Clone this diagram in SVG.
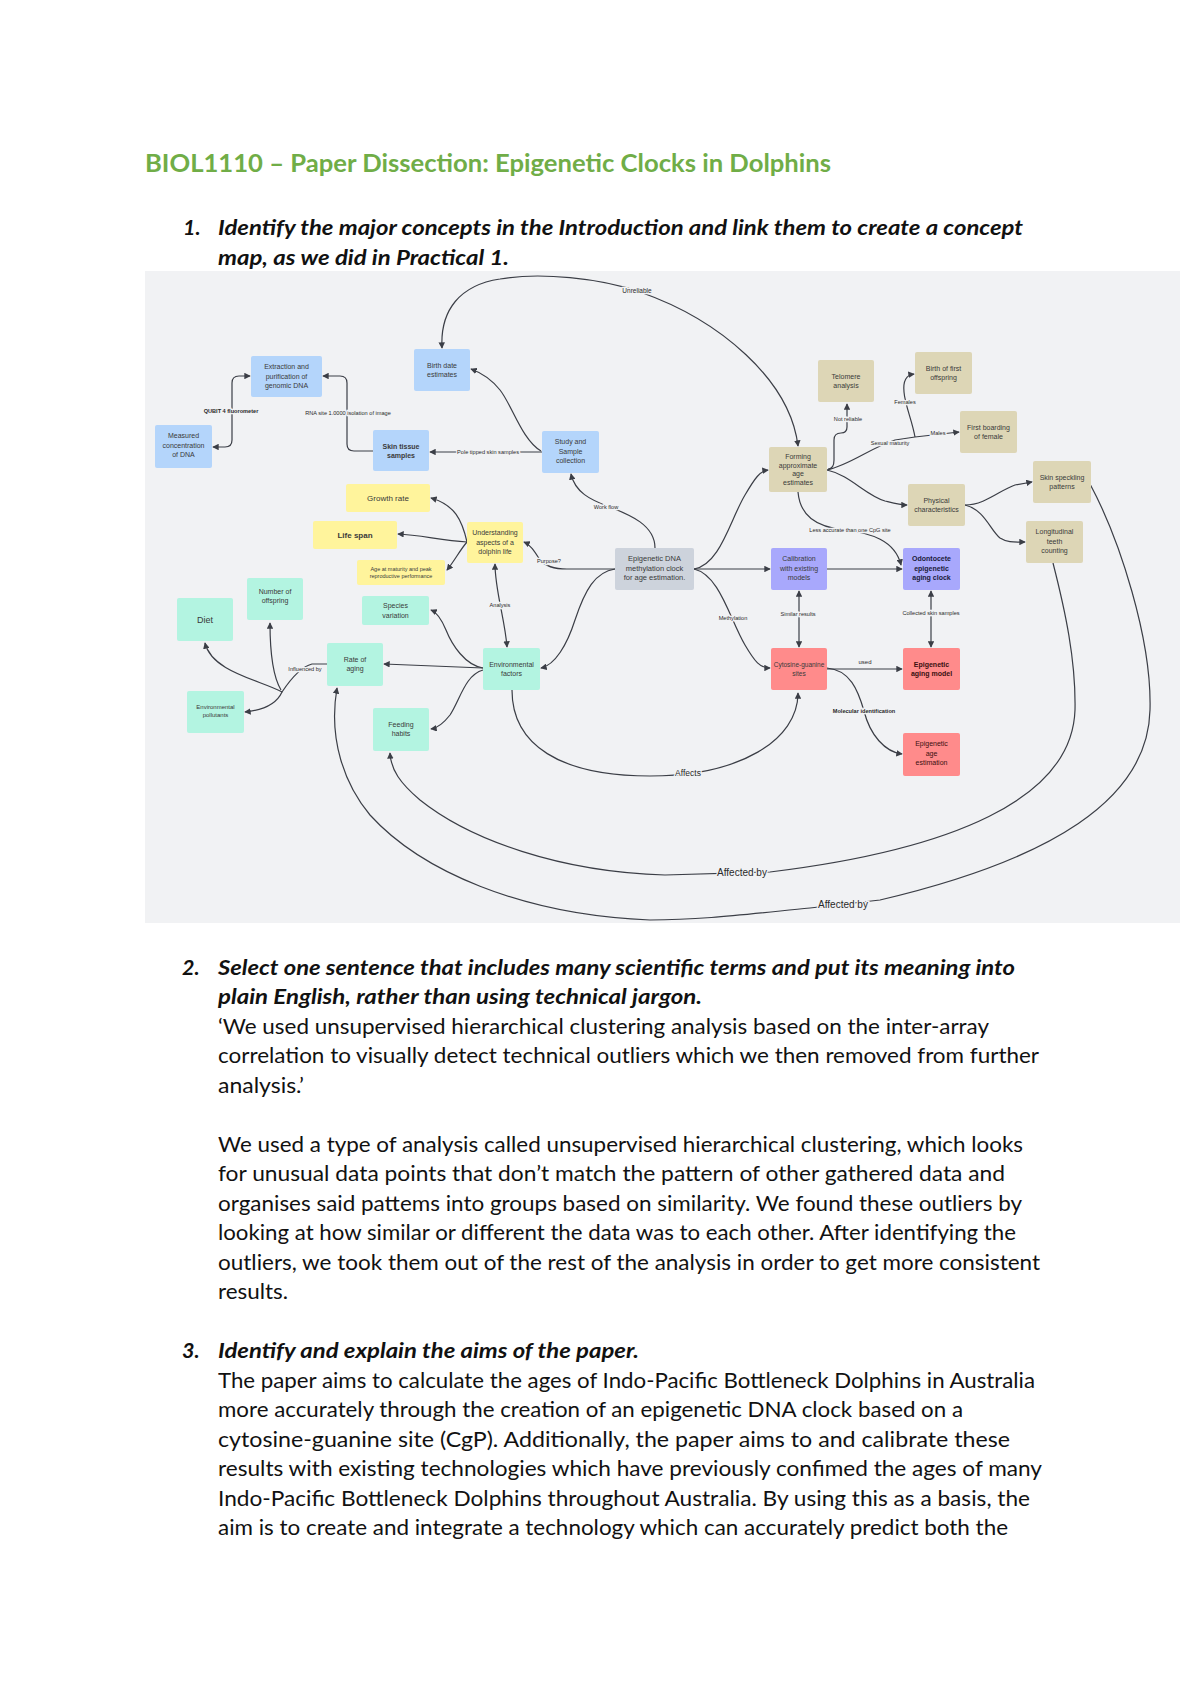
<svg xmlns="http://www.w3.org/2000/svg" width="1200" height="1696" viewBox="0 0 1200 1696">
<style>
.doc{font-family:Lato,"Liberation Sans",sans-serif;font-size:21.5px;fill:#111}
.q{font-weight:bold;font-style:italic}
.title{font-family:Lato,"Liberation Sans",sans-serif;font-weight:bold;font-size:25px;fill:#70ad47}
.c{fill:none;stroke:#3b3e46;stroke-width:1.2}
.nt{font-family:"Liberation Sans",Arial,sans-serif;font-size:7px;fill:#3a3a3a;text-anchor:middle}
.b{font-weight:bold}
.lb{font-family:"Liberation Sans",Arial,sans-serif;font-size:5.6px;fill:#2a2a2a;text-anchor:middle;paint-order:stroke;stroke:#f1f2f4;stroke-width:2.5px}
.big{font-size:10px}
.blue{fill:#b4d5fb}
.mint{fill:#b3f4e1}
.yel{fill:#fff49c}
.beige{fill:#ddd6b6}
.purp{fill:#a8a8fc}
.red{fill:#ff8b8b}
.grey{fill:#cdd3dc}
</style>
<defs>
<marker id="ah" viewBox="0 0 8 8" refX="7" refY="4" markerWidth="6.5" markerHeight="6.5" markerUnits="userSpaceOnUse" orient="auto-start-reverse"><path d="M0,0 L8,4 L0,8 z" fill="#3b3e46"/></marker>
</defs>
<rect width="1200" height="1696" fill="#ffffff"/>

<text class="title" x="145" y="172" textLength="686" lengthAdjust="spacingAndGlyphs">BIOL1110 – Paper Dissection: Epigenetic Clocks in Dolphins</text>

<text class="doc q" x="183" y="235">1.</text>
<text class="doc q" x="218" y="235" textLength="805" lengthAdjust="spacingAndGlyphs">Identify the major concepts in the Introduction and link them to create a concept</text>
<text class="doc q" x="218" y="265" textLength="291" lengthAdjust="spacingAndGlyphs">map, as we did in Practical 1.</text>

<rect x="145" y="271" width="1035" height="652" fill="#f1f2f4"/>

<g id="connectors">
<path class="c" d="M213,447 L225,447 Q232,447 232,440 L232,383 Q232,376 239,376 L250,376" marker-start="url(#ah)" marker-end="url(#ah)"/>
<path class="c" d="M373,451 L354,451 Q347,451 347,444 L347,383 Q347,376 340,376 L323,376" marker-end="url(#ah)"/>
<path class="c" d="M542,452 L430,452" marker-end="url(#ah)"/>
<path class="c" d="M541,451 C522,440 512,405 500,390 C492,380 482,373 471,369" marker-end="url(#ah)"/>
<path class="c" d="M442,348 C440,310 460,285 500,279 C540,272 600,278 640,292 C720,320 790,380 798,446" marker-start="url(#ah)" marker-end="url(#ah)"/>
<path class="c" d="M655,548 C655,525 630,515 610,507 C590,500 575,492 571,474" marker-end="url(#ah)"/>
<path class="c" d="M694,569 L770,569" marker-end="url(#ah)"/>
<path class="c" d="M694,569 C720,565 730,520 745,495 C755,478 760,471 768,470" marker-end="url(#ah)"/>
<path class="c" d="M694,569 C720,575 730,620 745,645 C755,662 760,668 770,668" marker-end="url(#ah)"/>
<path class="c" d="M615,569 L567,569 C555,569 545,566 540,560 C535,552 531,545 524,542" marker-end="url(#ah)"/>
<path class="c" d="M615,569 C595,572 585,590 575,620 C567,645 555,665 541,668" marker-end="url(#ah)"/>
<path class="c" d="M495,564 C495,590 505,620 507,647" marker-start="url(#ah)" marker-end="url(#ah)"/>
<path class="c" d="M799,591 L799,647" marker-start="url(#ah)" marker-end="url(#ah)"/>
<path class="c" d="M827,569 L902,569" marker-end="url(#ah)"/>
<path class="c" d="M931,591 L931,647" marker-start="url(#ah)" marker-end="url(#ah)"/>
<path class="c" d="M827,669 L902,669" marker-end="url(#ah)"/>
<path class="c" d="M827,668 C850,670 858,690 864,711 C870,735 885,752 902,754" marker-end="url(#ah)"/>
<path class="c" d="M512,690 C512,745 560,776 650,776 C740,776 798,740 798,693" marker-end="url(#ah)"/>
<path class="c" d="M1053,563 C1065,610 1076,660 1075,710 C1072,800 950,850 770,872 L665,875 C560,872 470,840 420,800 C400,783 391,770 390,753" marker-end="url(#ah)"/>
<path class="c" d="M1090,484 C1120,540 1152,640 1150,710 C1148,800 1050,860 880,900 L810,908 C740,915 700,920 650,920 C520,915 420,870 370,815 C345,785 328,740 337,688" marker-end="url(#ah)"/>
<path class="c" d="M467,542 C462,520 455,505 431,498" marker-end="url(#ah)"/>
<path class="c" d="M467,542 C440,540 420,535 398,534" marker-end="url(#ah)"/>
<path class="c" d="M467,542 C460,550 455,560 447,570" marker-end="url(#ah)"/>
<path class="c" d="M483,668 C465,665 452,645 446,630 C441,618 436,612 431,610" marker-end="url(#ah)"/>
<path class="c" d="M483,668 L384,664" marker-end="url(#ah)"/>
<path class="c" d="M483,670 C465,675 460,700 450,715 C443,724 438,728 431,729" marker-end="url(#ah)"/>
<path class="c" d="M327,664 L312,664 C300,667 290,680 282,692 C260,680 212,672 205,643" marker-end="url(#ah)"/>
<path class="c" d="M281,690 C272,675 270,650 270,623" marker-end="url(#ah)"/>
<path class="c" d="M282,692 C277,703 265,710 245,712" marker-end="url(#ah)"/>
<path class="c" d="M965,505 C985,505 1000,490 1015,485 L1032,482" marker-end="url(#ah)"/>
<path class="c" d="M965,505 C985,510 990,530 1000,538 C1008,543 1015,542 1025,542" marker-end="url(#ah)"/>
<path class="c" d="M827,470 C850,475 865,495 885,501 C893,503 900,505 907,505" marker-end="url(#ah)"/>
<path class="c" d="M827,470 C850,465 870,448 895,440 L915,437 L959,432" marker-end="url(#ah)"/>
<path class="c" d="M915,437 C912,420 905,405 904,392 C903,382 906,375 914,374" marker-end="url(#ah)"/>
<path class="c" d="M828,469 Q834,469 834,460 L834,440 Q834,433 841,433 Q847,433 847,427 L847,404" marker-end="url(#ah)"/>
<path class="c" d="M798,492 C800,515 815,527 845,530 C870,533 895,540 901,565" marker-end="url(#ah)"/>

<text class="lb b" x="231" y="413">QUBIT 4 fluorometer</text>
<text class="lb" x="348" y="415">RNA site 1.0000 isolation of image</text>
<text class="lb" x="488" y="454">Pole tipped skin samples</text>
<text class="lb" style="font-size:6.5px" x="637" y="293">Unreliable</text>
<text class="lb" x="606" y="509">Work flow</text>
<text class="lb" x="549" y="563">Purpose?</text>
<text class="lb" x="500" y="607">Analysis</text>
<text class="lb" x="733" y="620">Methylation</text>
<text class="lb" x="798" y="616">Similar results</text>
<text class="lb" x="931" y="615">Collected skin samples</text>
<text class="lb" style="font-size:6px" x="865" y="664">used</text>
<text class="lb b" x="864" y="713">Molecular identification</text>
<text class="lb" style="font-size:8.5px" x="688" y="776">Affects</text>
<text class="lb big" x="742" y="876">Affected by</text>
<text class="lb big" x="843" y="908">Affected by</text>
<text class="lb" x="305" y="671">Influenced by</text>
<text class="lb" x="850" y="532">Less accurate than one CpG site</text>
<text class="lb" x="890" y="445">Sexual maturity</text>
<text class="lb" x="905" y="404">Females</text>
<text class="lb" x="938" y="435">Males</text>
<text class="lb" x="848" y="421">Not reliable</text>
</g>

<g id="n-extraction"><rect class="blue" x="251" y="356" width="71" height="41" rx="2"/><text class="nt"><tspan x="286.5" y="369">Extraction and</tspan><tspan x="286.5" y="378.5">purification of</tspan><tspan x="286.5" y="388">genomic DNA</tspan></text></g>
<g id="n-birthdate"><rect class="blue" x="414" y="349" width="56" height="42" rx="2"/><text class="nt"><tspan x="442" y="368">Birth date</tspan><tspan x="442" y="377">estimates</tspan></text></g>
<g id="n-measured"><rect class="blue" x="155" y="425" width="57" height="43" rx="2"/><text class="nt"><tspan x="183.5" y="438">Measured</tspan><tspan x="183.5" y="447.5">concentration</tspan><tspan x="183.5" y="457">of DNA</tspan></text></g>
<g id="n-skin"><rect class="blue" x="373" y="430" width="56" height="41" rx="2"/><text class="nt b"><tspan x="401" y="449">Skin tissue</tspan><tspan x="401" y="458">samples</tspan></text></g>
<g id="n-study"><rect class="blue" x="542" y="431" width="57" height="42" rx="2"/><text class="nt"><tspan x="570.5" y="444">Study and</tspan><tspan x="570.5" y="453.5">Sample</tspan><tspan x="570.5" y="463">collection</tspan></text></g>

<g id="n-telomere"><rect class="beige" x="818" y="360" width="56" height="42" rx="2"/><text class="nt"><tspan x="846" y="379">Telomere</tspan><tspan x="846" y="388">analysis</tspan></text></g>
<g id="n-birthfirst"><rect class="beige" x="915" y="352" width="57" height="42" rx="2"/><text class="nt"><tspan x="943.5" y="371">Birth of first</tspan><tspan x="943.5" y="380">offspring</tspan></text></g>
<g id="n-boarding"><rect class="beige" x="960" y="411" width="57" height="42" rx="2"/><text class="nt"><tspan x="988.5" y="430">First boarding</tspan><tspan x="988.5" y="439">of female</tspan></text></g>
<g id="n-forming"><rect class="beige" x="769" y="447" width="58" height="45" rx="2"/><text class="nt"><tspan x="798" y="459">Forming</tspan><tspan x="798" y="467.5">approximate</tspan><tspan x="798" y="476">age</tspan><tspan x="798" y="484.5">estimates</tspan></text></g>
<g id="n-physical"><rect class="beige" x="908" y="484" width="57" height="42" rx="2"/><text class="nt"><tspan x="936.5" y="503">Physical</tspan><tspan x="936.5" y="512">characteristics</tspan></text></g>
<g id="n-speckling"><rect class="beige" x="1033" y="461" width="58" height="42" rx="2"/><text class="nt"><tspan x="1062" y="480">Skin speckling</tspan><tspan x="1062" y="489">patterns</tspan></text></g>
<g id="n-teeth"><rect class="beige" x="1026" y="521" width="57" height="42" rx="2"/><text class="nt"><tspan x="1054.5" y="534">Longitudinal</tspan><tspan x="1054.5" y="543.5">teeth</tspan><tspan x="1054.5" y="553">counting</tspan></text></g>

<g id="n-growth"><rect class="yel" x="346" y="484" width="84" height="28" rx="2"/><text class="nt" style="font-size:8px"><tspan x="388" y="501">Growth rate</tspan></text></g>
<g id="n-lifespan"><rect class="yel" x="313" y="521" width="84" height="28" rx="2"/><text class="nt b" style="font-size:8px"><tspan x="355" y="538">Life span</tspan></text></g>
<g id="n-agematurity"><rect class="yel" x="357" y="560" width="88" height="25" rx="2"/><text class="nt" style="font-size:5.5px"><tspan x="401" y="571">Age at maturity and peak</tspan><tspan x="401" y="578">reproductive performance</tspan></text></g>
<g id="n-understanding"><rect class="yel" x="467" y="522" width="56" height="41" rx="2"/><text class="nt"><tspan x="495" y="535">Understanding</tspan><tspan x="495" y="544.5">aspects of a</tspan><tspan x="495" y="554">dolphin life</tspan></text></g>

<g id="n-epiclock"><rect class="grey" x="615" y="548" width="79" height="42" rx="2"/><text class="nt" style="font-size:7.5px"><tspan x="654.5" y="561">Epigenetic DNA</tspan><tspan x="654.5" y="570.5">methylation clock</tspan><tspan x="654.5" y="580">for age estimation.</tspan></text></g>
<g id="n-calibration"><rect class="purp" x="771" y="548" width="56" height="42" rx="2"/><text class="nt"><tspan x="799" y="561">Calibration</tspan><tspan x="799" y="570.5">with existing</tspan><tspan x="799" y="580">models</tspan></text></g>
<g id="n-odontocete"><rect class="purp" x="903" y="548" width="57" height="42" rx="2"/><text class="nt b" style="fill:#1a1a3a"><tspan x="931.5" y="561">Odontocete</tspan><tspan x="931.5" y="570.5">epigenetic</tspan><tspan x="931.5" y="580">aging clock</tspan></text></g>

<g id="n-offspring"><rect class="mint" x="247" y="578" width="56" height="42" rx="2"/><text class="nt"><tspan x="275" y="594">Number of</tspan><tspan x="275" y="603">offspring</tspan></text></g>
<g id="n-diet"><rect class="mint" x="177" y="598" width="56" height="43" rx="2"/><text class="nt" style="font-size:9px"><tspan x="205" y="622.5">Diet</tspan></text></g>
<g id="n-species"><rect class="mint" x="362" y="596" width="67" height="29" rx="2"/><text class="nt"><tspan x="395.5" y="608">Species</tspan><tspan x="395.5" y="617.5">variation</tspan></text></g>
<g id="n-rateaging"><rect class="mint" x="327" y="643" width="56" height="43" rx="2"/><text class="nt"><tspan x="355" y="662">Rate of</tspan><tspan x="355" y="671">aging</tspan></text></g>
<g id="n-envfactors"><rect class="mint" x="483" y="648" width="57" height="42" rx="2"/><text class="nt"><tspan x="511.5" y="667">Environmental</tspan><tspan x="511.5" y="676">factors</tspan></text></g>
<g id="n-pollutants"><rect class="mint" x="187" y="691" width="57" height="42" rx="2"/><text class="nt" style="font-size:6px"><tspan x="215.5" y="709">Environmental</tspan><tspan x="215.5" y="717">pollutants</tspan></text></g>
<g id="n-feeding"><rect class="mint" x="373" y="708" width="56" height="43" rx="2"/><text class="nt"><tspan x="401" y="727">Feeding</tspan><tspan x="401" y="736">habits</tspan></text></g>

<g id="n-cytosine"><rect class="red" x="771" y="648" width="56" height="42" rx="2"/><text class="nt" style="font-size:6.5px"><tspan x="799" y="667">Cytosine-guanine</tspan><tspan x="799" y="676">sites</tspan></text></g>
<g id="n-agingmodel"><rect class="red" x="903" y="648" width="57" height="42" rx="2"/><text class="nt b" style="fill:#3a1010"><tspan x="931.5" y="667">Epigenetic</tspan><tspan x="931.5" y="676">aging model</tspan></text></g>
<g id="n-ageestimation"><rect class="red" x="903" y="733" width="57" height="43" rx="2"/><text class="nt" style="fill:#3a1010"><tspan x="931.5" y="746">Epigenetic</tspan><tspan x="931.5" y="755.5">age</tspan><tspan x="931.5" y="765">estimation</tspan></text></g>

<text class="doc q" x="182" y="975">2.</text>
<text class="doc q" x="218" y="975" textLength="797" lengthAdjust="spacingAndGlyphs">Select one sentence that includes many scientific terms and put its meaning into</text>
<text class="doc q" x="218" y="1004" textLength="484" lengthAdjust="spacingAndGlyphs">plain English, rather than using technical jargon.</text>
<text class="doc" x="218" y="1034" textLength="771" lengthAdjust="spacingAndGlyphs">‘We used unsupervised hierarchical clustering analysis based on the inter-array</text>
<text class="doc" x="218" y="1063" textLength="821" lengthAdjust="spacingAndGlyphs">correlation to visually detect technical outliers which we then removed from further</text>
<text class="doc" x="218" y="1093" textLength="86" lengthAdjust="spacingAndGlyphs">analysis.’</text>

<text class="doc" x="218" y="1152" textLength="805" lengthAdjust="spacingAndGlyphs">We used a type of analysis called unsupervised hierarchical clustering, which looks</text>
<text class="doc" x="218" y="1181" textLength="787" lengthAdjust="spacingAndGlyphs">for unusual data points that don’t match the pattern of other gathered data and</text>
<text class="doc" x="218" y="1211" textLength="804" lengthAdjust="spacingAndGlyphs">organises said pattems into groups based on similarity. We found these outliers by</text>
<text class="doc" x="218" y="1240" textLength="798" lengthAdjust="spacingAndGlyphs">looking at how similar or different the data was to each other. After identifying the</text>
<text class="doc" x="218" y="1270" textLength="822" lengthAdjust="spacingAndGlyphs">outliers, we took them out of the rest of the analysis in order to get more consistent</text>
<text class="doc" x="218" y="1299" textLength="70" lengthAdjust="spacingAndGlyphs">results.</text>

<text class="doc q" x="182" y="1358">3.</text>
<text class="doc q" x="218" y="1358" textLength="421" lengthAdjust="spacingAndGlyphs">Identify and explain the aims of the paper.</text>
<text class="doc" x="218" y="1388" textLength="817" lengthAdjust="spacingAndGlyphs">The paper aims to calculate the ages of Indo-Pacific Bottleneck Dolphins in Australia</text>
<text class="doc" x="218" y="1417" textLength="745" lengthAdjust="spacingAndGlyphs">more accurately through the creation of an epigenetic DNA clock based on a</text>
<text class="doc" x="218" y="1447" textLength="792" lengthAdjust="spacingAndGlyphs">cytosine-guanine site (CgP). Additionally, the paper aims to and calibrate these</text>
<text class="doc" x="218" y="1476" textLength="824" lengthAdjust="spacingAndGlyphs">results with existing technologies which have previously confimed the ages of many</text>
<text class="doc" x="218" y="1506" textLength="812" lengthAdjust="spacingAndGlyphs">Indo-Pacific Bottleneck Dolphins throughout Australia. By using this as a basis, the</text>
<text class="doc" x="218" y="1535" textLength="790" lengthAdjust="spacingAndGlyphs">aim is to create and integrate a technology which can accurately predict both the</text>
</svg>
